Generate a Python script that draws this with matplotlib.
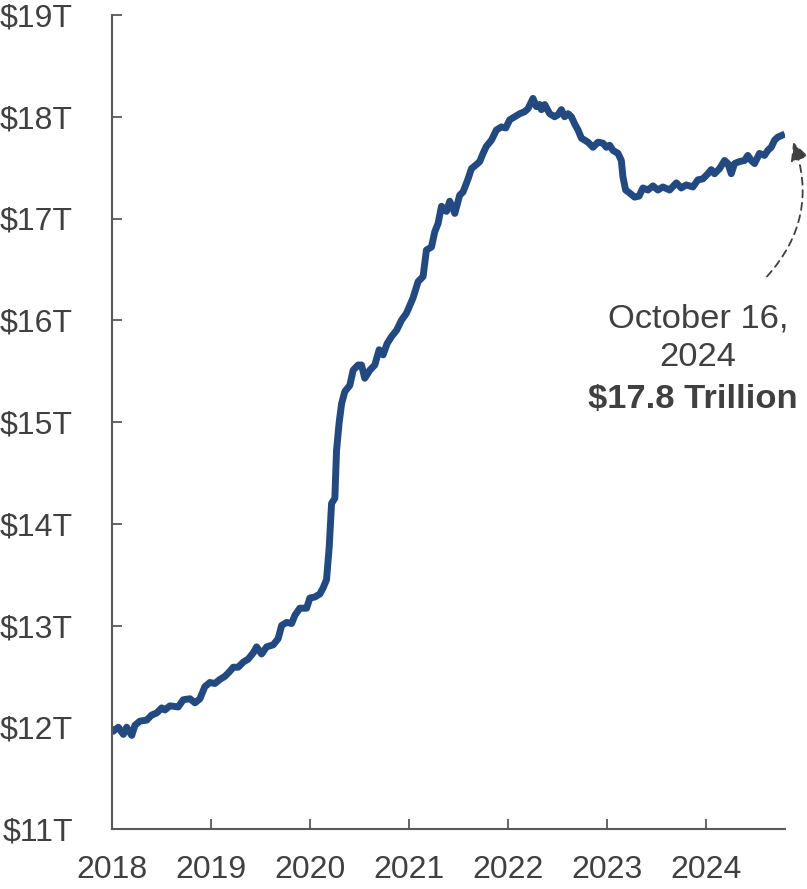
import matplotlib
matplotlib.use("Agg")
import matplotlib.pyplot as plt

plt.rcParams['font.family'] = ['Liberation Sans', 'DejaVu Sans']

# ---- data ----
years = [2018.000, 2018.067, 2018.117, 2018.151, 2018.202, 2018.235, 2018.285, 2018.353,
         2018.403, 2018.454, 2018.504, 2018.537, 2018.587, 2018.671, 2018.722, 2018.789,
         2018.840, 2018.890, 2018.940, 2018.991, 2019.041, 2019.091, 2019.142, 2019.192,
         2019.226, 2019.276, 2019.327, 2019.377, 2019.427, 2019.462, 2019.512, 2019.563,
         2019.629, 2019.679, 2019.714, 2019.764, 2019.815, 2019.848, 2019.898, 2019.966,
         2019.999, 2020.049, 2020.100, 2020.133, 2020.167, 2020.194, 2020.218, 2020.251,
         2020.268, 2020.294, 2020.319, 2020.352, 2020.402, 2020.436, 2020.486, 2020.520,
         2020.553, 2020.604, 2020.654, 2020.698, 2020.738, 2020.778, 2020.823, 2020.873,
         2020.923, 2020.974, 2021.040, 2021.091, 2021.141, 2021.175, 2021.226, 2021.259,
         2021.292, 2021.327, 2021.377, 2021.410, 2021.461, 2021.511, 2021.544, 2021.595,
         2021.629, 2021.679, 2021.713, 2021.746, 2021.780, 2021.831, 2021.881, 2021.931,
         2021.975, 2022.015, 2022.066, 2022.116, 2022.166, 2022.200, 2022.250, 2022.284,
         2022.317, 2022.335, 2022.368, 2022.418, 2022.468, 2022.502, 2022.536, 2022.569,
         2022.603, 2022.637, 2022.670, 2022.704, 2022.738, 2022.771, 2022.804, 2022.855,
         2022.905, 2022.956, 2022.990, 2023.023, 2023.056, 2023.107, 2023.141, 2023.157,
         2023.184, 2023.225, 2023.275, 2023.319, 2023.359, 2023.409, 2023.460, 2023.510,
         2023.560, 2023.628, 2023.696, 2023.746, 2023.796, 2023.863, 2023.913, 2023.964,
         2024.014, 2024.048, 2024.081, 2024.132, 2024.182, 2024.216, 2024.250, 2024.283,
         2024.333, 2024.384, 2024.417, 2024.452, 2024.485, 2024.535, 2024.585, 2024.619,
         2024.653, 2024.687, 2024.720, 2024.790]

deposits_trillions = [11.95, 12.00, 11.93, 12.00, 11.92, 12.02, 12.06, 12.07,
                      12.12, 12.14, 12.19, 12.17, 12.21, 12.20, 12.27, 12.28,
                      12.24, 12.28, 12.40, 12.44, 12.43, 12.47, 12.50, 12.55,
                      12.59, 12.59, 12.64, 12.67, 12.73, 12.79, 12.72, 12.79,
                      12.81, 12.87, 13.00, 13.03, 13.02, 13.10, 13.17, 13.17,
                      13.27, 13.28, 13.31, 13.37, 13.45, 13.77, 14.20, 14.25,
                      14.72, 14.99, 15.18, 15.30, 15.36, 15.51, 15.56, 15.56,
                      15.43, 15.51, 15.56, 15.71, 15.66, 15.77, 15.84, 15.90,
                      16.00, 16.07, 16.22, 16.38, 16.43, 16.69, 16.72, 16.87,
                      16.95, 17.12, 17.07, 17.17, 17.05, 17.23, 17.26, 17.39,
                      17.49, 17.53, 17.56, 17.64, 17.71, 17.77, 17.87, 17.90,
                      17.89, 17.97, 18.00, 18.03, 18.05, 18.08, 18.18, 18.10,
                      18.12, 18.07, 18.12, 18.03, 18.00, 18.02, 18.07, 18.00,
                      18.03, 18.00, 17.93, 17.87, 17.79, 17.77, 17.75, 17.70,
                      17.75, 17.74, 17.70, 17.72, 17.67, 17.64, 17.57, 17.41,
                      17.28, 17.25, 17.21, 17.22, 17.30, 17.28, 17.32, 17.28,
                      17.31, 17.28, 17.35, 17.30, 17.33, 17.31, 17.38, 17.39,
                      17.44, 17.48, 17.44, 17.49, 17.57, 17.54, 17.44, 17.54,
                      17.56, 17.57, 17.62, 17.57, 17.54, 17.64, 17.62, 17.67,
                      17.70, 17.77, 17.80, 17.83]

x_ticks = [2018, 2019, 2020, 2021, 2022, 2023, 2024]
x_tick_labels = ['2018', '2019', '2020', '2021', '2022', '2023', '2024']
y_ticks = [11, 12, 13, 14, 15, 16, 17, 18, 19]
y_tick_labels = ['$11T', '$12T', '$13T', '$14T', '$15T', '$16T', '$17T', '$18T', '$19T']

annot_lines = ['October 16,', '2024']
annot_value = '$17.8 Trillion'

# ---- figure ----
W, H = 807, 889
fig = plt.figure(figsize=(W / 100, H / 100), dpi=100)
ax = fig.add_axes([111.7 / W, (H - 829) / H, (784.8 - 111.7) / W, (829 - 15) / H])

line_color = '#234a80'
text_color = '#404040'
axis_color = '#595959'

ax.plot(years, deposits_trillions, color=line_color, lw=5.0,
        solid_joinstyle='round', solid_capstyle='butt')

ax.set_xlim(2018, 2024.79)
ax.set_ylim(11, 19)

for s in ['top', 'right']:
    ax.spines[s].set_visible(False)
for s in ['left', 'bottom']:
    ax.spines[s].set_color(axis_color)
    ax.spines[s].set_linewidth(1.5)

ax.set_xticks(x_ticks)
ax.set_xticklabels(x_tick_labels)
ax.set_yticks(y_ticks)
ax.set_yticklabels(y_tick_labels)
ax.tick_params(axis='both', direction='in', length=7, width=1.3, color=axis_color,
               labelcolor=text_color, labelsize=23)
ax.tick_params(axis='y', pad=28)
ax.tick_params(axis='x', pad=19)

# annotation arrow (dashed, curved)
ax.annotate('', xy=(2024.875, 17.75), xytext=(2024.61, 16.43),
            arrowprops=dict(arrowstyle='-|>,head_length=0.8,head_width=0.4',
                            linestyle=(0, (4, 3)), color=text_color, lw=1.3,
                            connectionstyle='arc3,rad=0.3', shrinkA=0, shrinkB=0,
                            mutation_scale=14),
            annotation_clip=False)

fig.text(698 / W, 1 - 327 / H, annot_lines[0], ha='center', va='baseline',
         fontsize=24.8, color=text_color)
fig.text(698 / W, 1 - 366 / H, annot_lines[1], ha='center', va='baseline',
         fontsize=24.8, color=text_color)
fig.text(693 / W, 1 - 408 / H, annot_value, ha='center', va='baseline',
         fontsize=24.8, color=text_color, fontweight='bold')

fig.savefig('out.png', dpi=100)
